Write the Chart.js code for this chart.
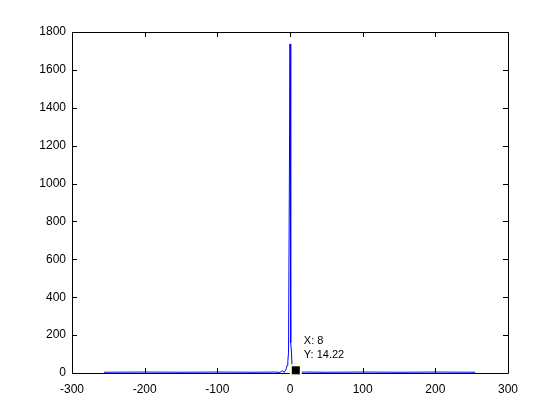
<!DOCTYPE html>
<html>
<head>
<meta charset="utf-8">
<script src="https://cdn.jsdelivr.net/npm/chart.js@4"></script>
<style>
  html, body { margin: 0; padding: 0; background: #fff; }
  #wrap { width: 560px; height: 420px; }
</style>
</head>
<body>
<div id="wrap"><canvas id="spectrum"></canvas></div>
<script>
// sample index (x) and magnitude (y)
const freq = [-256, -200, -150, -100, -50, -20, -14, -12, -10, -8, -6, -5, -4, -3, -2, -1, 0, 1, 2, 3, 4, 5, 6, 7, 8, 10, 12, 20, 50, 100, 150, 200, 255];
const magnitude = [4, 5, 4, 5, 4, 5, 3, 8, 12, 3, 15, 25, 40, 60, 110, 920, 1737, 160, 110, 20, 8, 5, 3, 4, 14.22, 5, 4, 5, 4, 5, 4, 5, 4];
const xTicks = [-300, -200, -100, 0, 100, 200, 300];
const yTicks = [0, 200, 400, 600, 800, 1000, 1200, 1400, 1600, 1800];
const tipX = 8;
const tipY = 14.22;

const points = freq.map((f, i) => ({ x: f, y: magnitude[i] }));

// MATLAB style box with inward ticks + the data tip
const matlabAxes = {
  id: 'matlabAxes',
  afterDatasetsDraw(chart) {
    const { ctx, chartArea: a, scales: { x, y } } = chart;
    ctx.save();
    ctx.strokeStyle = '#000';
    ctx.lineWidth = 1;
    ctx.beginPath();
    ctx.rect(a.left + 0.5, a.top + 0.5, a.right - a.left, a.bottom - a.top);
    xTicks.forEach(v => {
      const px = Math.round(x.getPixelForValue(v)) + 0.5;
      ctx.moveTo(px, a.bottom); ctx.lineTo(px, a.bottom - 5);
      ctx.moveTo(px, a.top); ctx.lineTo(px, a.top + 5);
    });
    yTicks.forEach(v => {
      const py = Math.round(y.getPixelForValue(v)) + 0.5;
      ctx.moveTo(a.left, py); ctx.lineTo(a.left + 5, py);
      ctx.moveTo(a.right, py); ctx.lineTo(a.right - 5, py);
    });
    ctx.stroke();

    // data tip
    const mx = x.getPixelForValue(tipX);
    const my = y.getPixelForValue(tipY);
    ctx.fillStyle = '#ffffe1';
    ctx.fillRect(mx - 6, my - 6, 12, 12);
    ctx.fillStyle = '#000';
    ctx.fillRect(mx - 4, my - 4, 8, 8);
    ctx.font = '11px "Liberation Sans", Arial, sans-serif';
    ctx.textBaseline = 'alphabetic';
    ctx.fillText('X: ' + tipX, mx + 8, my - 26);
    ctx.fillText('Y: ' + tipY.toFixed(2), mx + 8, my - 12);
    ctx.restore();
  }
};

new Chart(document.getElementById('spectrum'), {
  type: 'line',
  data: {
    datasets: [{
      data: points,
      borderColor: '#0000ff',
      borderWidth: 1,
      pointRadius: 0,
      tension: 0,
      fill: false
    }]
  },
  options: {
    responsive: true,
    maintainAspectRatio: false,
    animation: false,
    plugins: { legend: { display: false }, tooltip: { enabled: false } },
    layout: { padding: { left: 0, top: 32, right: 52, bottom: 26 } },
    scales: {
      x: {
        type: 'linear',
        min: -300, max: 300,
        afterBuildTicks: s => { s.ticks = xTicks.map(v => ({ value: v })); },
        afterFit: s => { s.height = 21; },
        grid: { display: false, drawTicks: false },
        border: { display: false },
        ticks: { color: '#000', padding: 9, maxRotation: 0, callback: v => String(v), font: { family: '"Liberation Sans", Arial, sans-serif', size: 12 } }
      },
      y: {
        min: 0, max: 1800,
        afterBuildTicks: s => { s.ticks = yTicks.map(v => ({ value: v })); },
        afterFit: s => { s.width = 72; },
        grid: { display: false, drawTicks: false },
        border: { display: false },
        ticks: { color: '#000', padding: 6, callback: v => String(v), font: { family: '"Liberation Sans", Arial, sans-serif', size: 12 } }
      }
    }
  },
  plugins: [matlabAxes]
});
</script>
</body>
</html>
